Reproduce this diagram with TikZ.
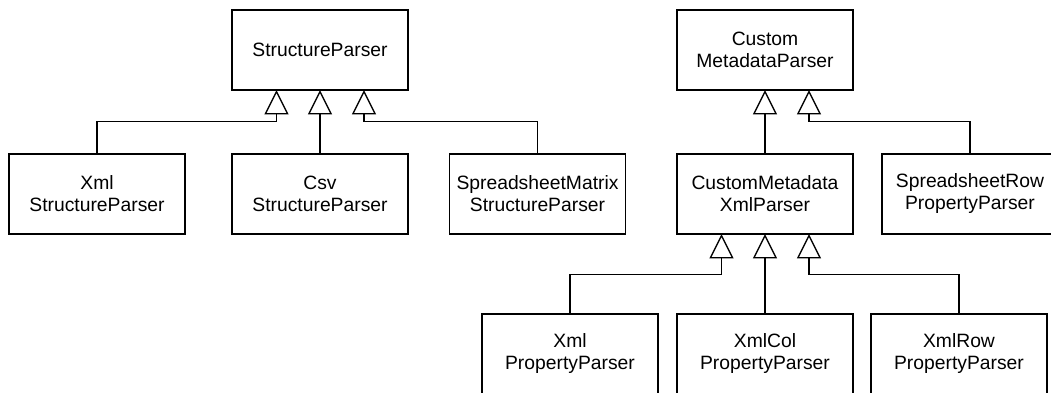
\documentclass[tikz,border=0pt]{standalone}
\usepackage{fontspec}
\setmainfont{Liberation Sans}
\tikzset{
  cls/.style={draw=black, line width=1.3pt, minimum width=176pt, minimum height=80pt,
    inner sep=0pt, align=center, font=\fontsize{19.3}{22}\selectfont},
  link/.style={draw=black, line width=1.3pt},
  head/.style={draw=black, fill=white, line width=1.3pt, line join=miter}
}
% open generalisation head whose tip sits at #1
\newcommand{\genhead}[1]{\draw[head] (#1) -- ++(-11pt,-22pt) -- ++(22pt,0pt) -- cycle;}
\begin{document}
\begin{tikzpicture}[x=1pt, y=1pt]
  \useasboundingbox (0,0) rectangle (1051,392);
  \clip (0,0) rectangle (1051,392);

  % top row
  \node[cls] (sp)   at (320,342) {StructureParser};
  \node[cls] (cmp)  at (765,342) {Custom\\MetadataParser};

  % middle row
  \node[cls] (xsp)  at (97,198)    {Xml\\StructureParser};
  \node[cls] (csp)  at (320,198)   {Csv\\StructureParser};
  \node[cls] (smsp) at (537.5,198) {SpreadsheetMatrix\\StructureParser};
  \node[cls] (cmxp) at (765,198)   {CustomMetadata\\XmlParser};
  \node[cls] (srpp) at (970,198)   {SpreadsheetRow\\PropertyParser};

  % bottom row
  \node[cls] (xpp)  at (570,38) {Xml\\PropertyParser};
  \node[cls] (xcpp) at (765,38) {XmlCol\\PropertyParser};
  \node[cls] (xrpp) at (959,38) {XmlRow\\PropertyParser};

  % tips of the generalisation heads
  \coordinate (spL)   at ([xshift=-43.5pt, yshift=-1pt]sp.south);
  \coordinate (spM)   at ([yshift=-1pt]sp.south);
  \coordinate (spR)   at ([xshift=44pt, yshift=-1pt]sp.south);
  \coordinate (cmpM)  at ([yshift=-1pt]cmp.south);
  \coordinate (cmpR)  at ([xshift=44pt, yshift=-1pt]cmp.south);
  \coordinate (cmxL)  at ([xshift=-43.5pt, yshift=-1pt]cmxp.south);
  \coordinate (cmxM)  at ([yshift=-1pt]cmxp.south);
  \coordinate (cmxR)  at ([xshift=44pt, yshift=-1pt]cmxp.south);

  % generalisations to StructureParser
  \draw[link] (xsp.north)  |- ([yshift=-30pt]spL) -- ([yshift=-22pt]spL);
  \draw[link] (csp.north)  -- ([yshift=-22pt]spM);
  \draw[link] (smsp.north) |- ([yshift=-30pt]spR) -- ([yshift=-22pt]spR);

  % generalisations to CustomMetadataParser
  \draw[link] (cmxp.north) -- ([yshift=-22pt]cmpM);
  \draw[link] (srpp.north) |- ([yshift=-30pt]cmpR) -- ([yshift=-22pt]cmpR);

  % generalisations to CustomMetadataXmlParser
  \draw[link] (xpp.north)  |- ([yshift=-39pt]cmxL) -- ([yshift=-22pt]cmxL);
  \draw[link] (xcpp.north) -- ([yshift=-22pt]cmxM);
  \draw[link] (xrpp.north) |- ([yshift=-39pt]cmxR) -- ([yshift=-22pt]cmxR);

  \genhead{spL}\genhead{spM}\genhead{spR}
  \genhead{cmpM}\genhead{cmpR}
  \genhead{cmxL}\genhead{cmxM}\genhead{cmxR}
\end{tikzpicture}
\end{document}
